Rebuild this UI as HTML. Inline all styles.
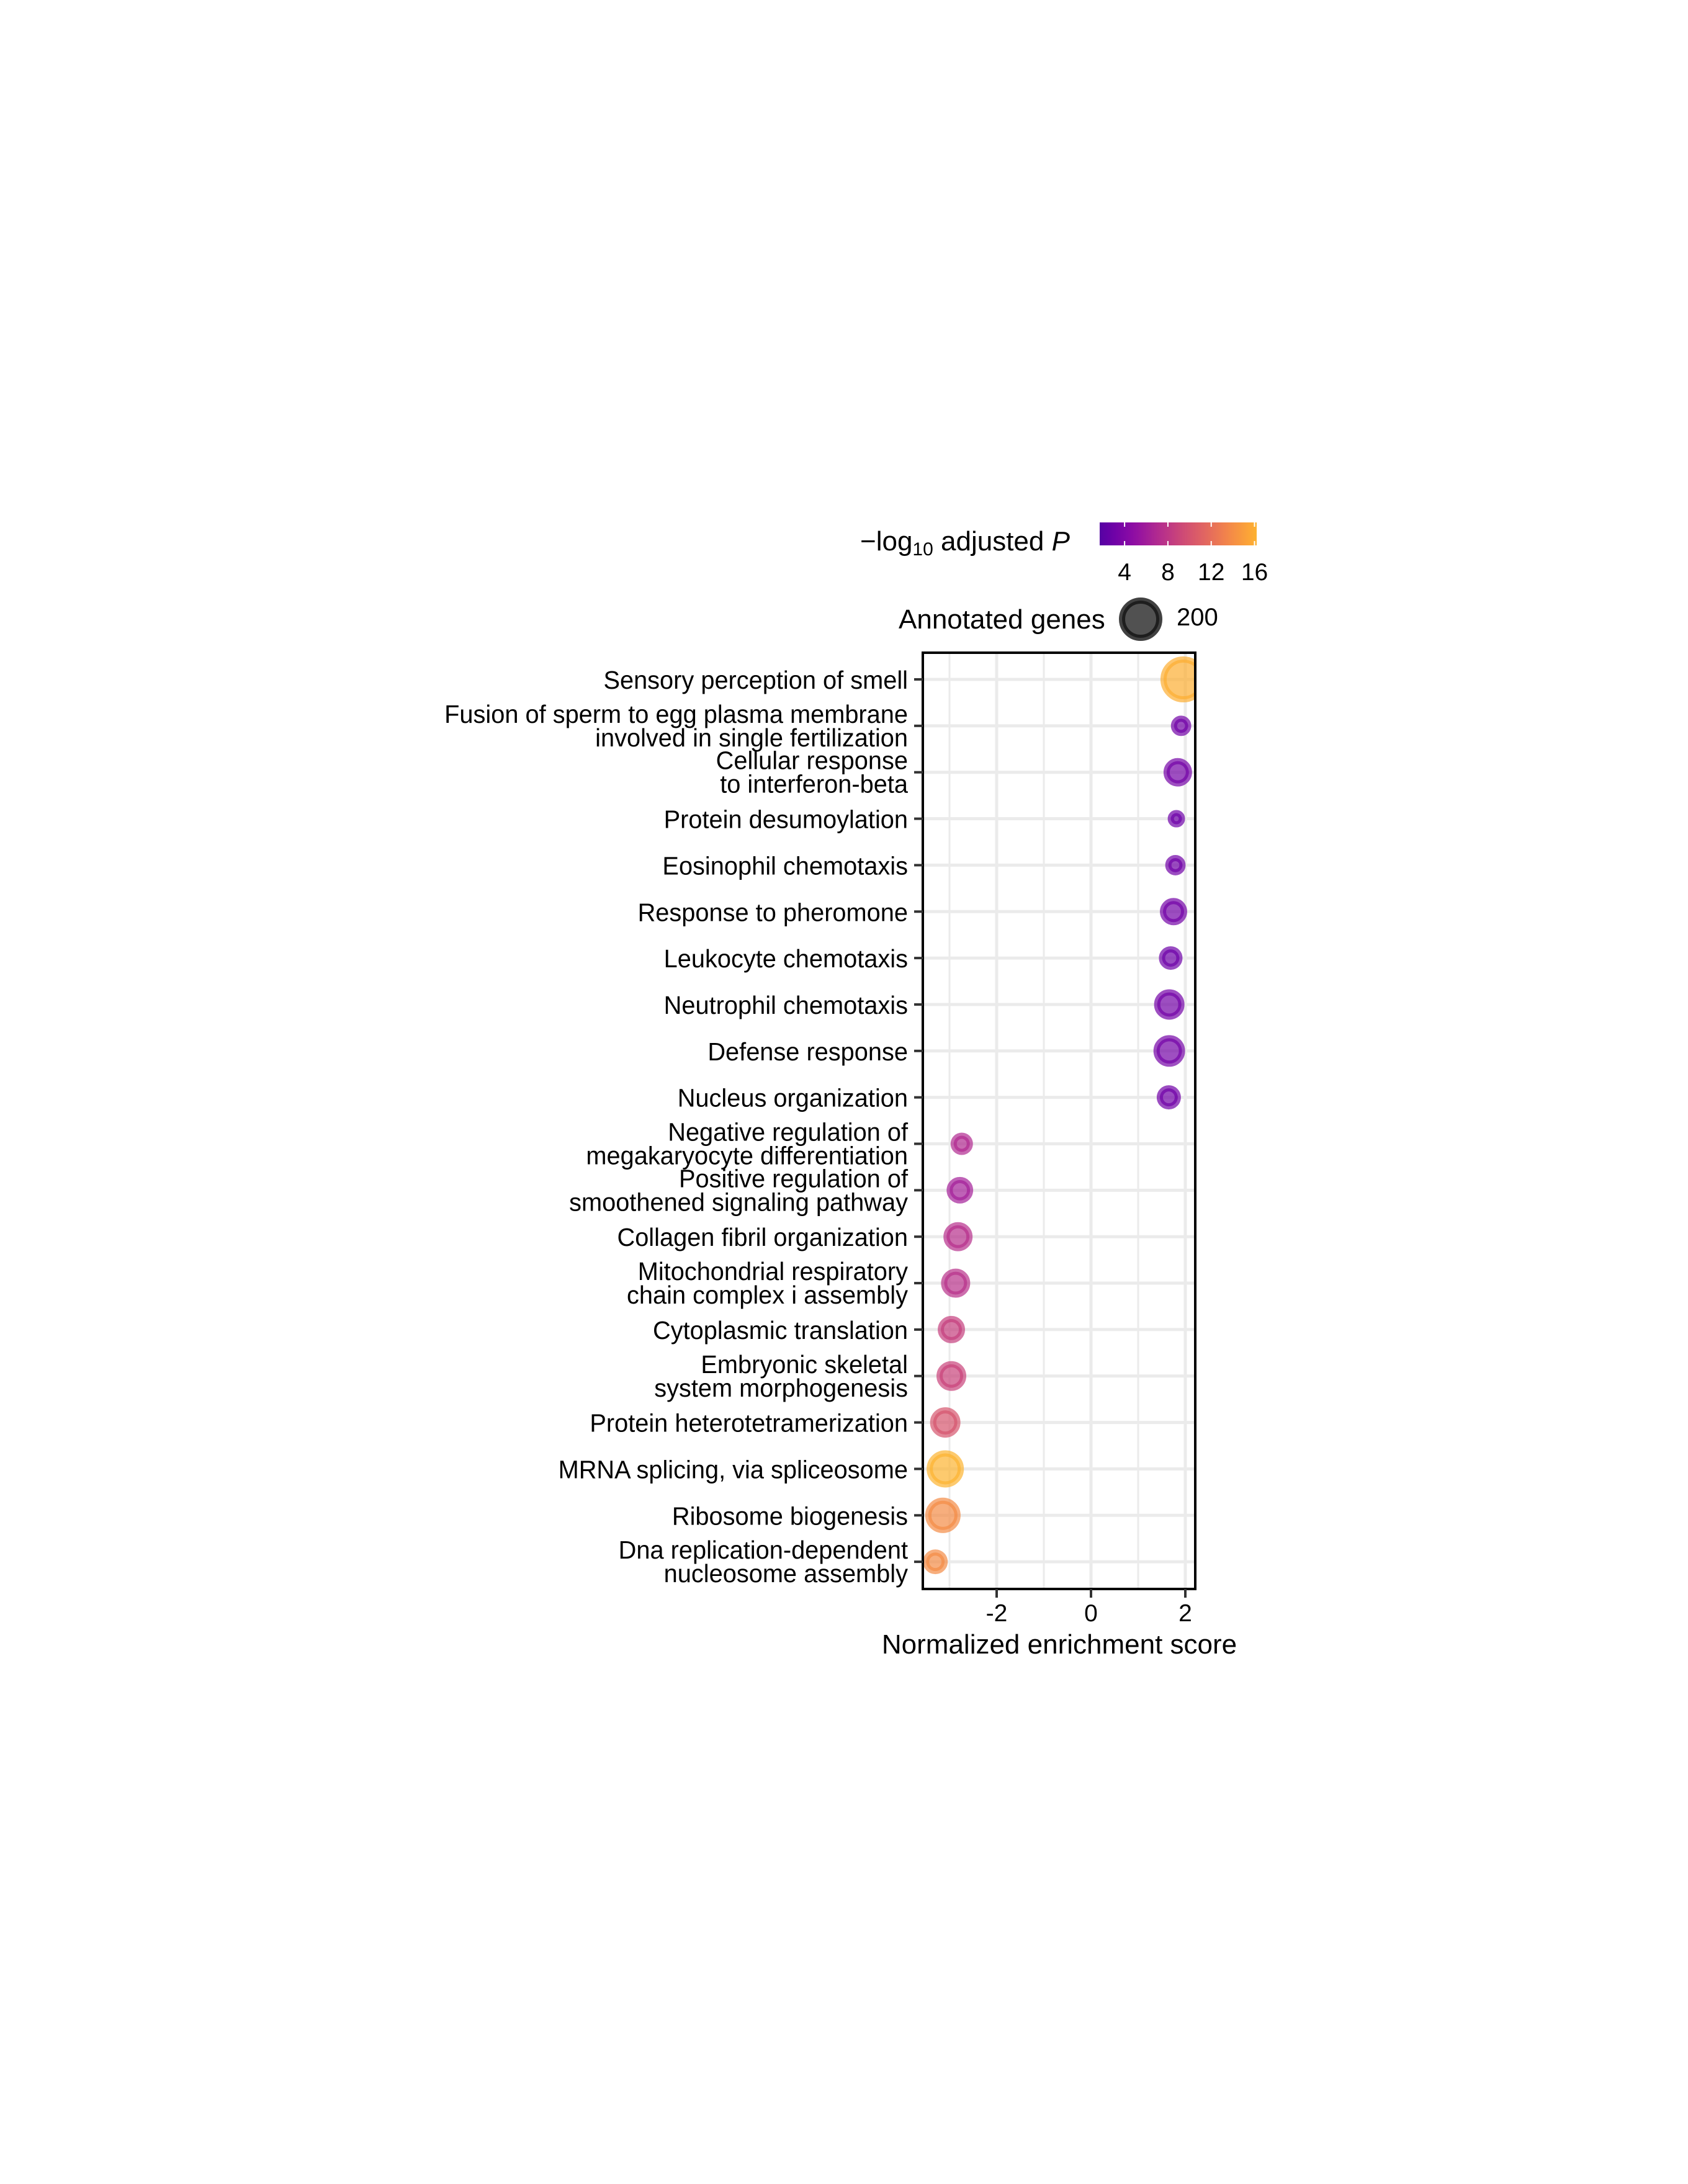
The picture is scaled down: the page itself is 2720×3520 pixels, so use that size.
<!DOCTYPE html>
<html><head><meta charset="utf-8"><style>
html,body{margin:0;padding:0;background:#fff;}
svg{display:block;}
text{font-family:"Liberation Sans",sans-serif;fill:#000;}
</style></head><body>
<svg id="chart" width="2720" height="3520" viewBox="0 0 2720 3520" xmlns="http://www.w3.org/2000/svg">
<defs>
<linearGradient id="cbgrad" x1="0" x2="1" y1="0" y2="0"></linearGradient>
<clipPath id="panelclip"><rect x="1487" y="1052" width="439" height="1509"></rect></clipPath>
</defs>
<g id="grid"></g>
<g id="points" clip-path="url(#panelclip)"></g>
<rect x="1487" y="1052" width="439" height="1509" fill="none" stroke="#000" stroke-width="4"></rect>
<g id="yaxis"></g>
<g id="xaxis"></g>
<text x="1707" y="2665" font-size="44" text-anchor="middle">Normalized enrichment score</text>
<g>
<text x="1386" y="887" font-size="44">−log<tspan font-size="30" dy="8">10</tspan><tspan dy="-8"> adjusted </tspan><tspan font-style="italic">P</tspan></text>
<rect x="1772" y="842" width="253" height="37" fill="url(#cbgrad)"></rect>
<g id="cbticks"></g>
</g>
<g>
<text x="1448" y="1013" font-size="44">Annotated genes</text>
<circle cx="1838" cy="998" r="30" fill="#333" fill-opacity="0.85" stroke="#111" stroke-opacity="0.8" stroke-width="10"></circle>
<text x="1896" y="1008" font-size="40">200</text>
</g>
</svg>
<script>
const categories = ["Sensory perception of smell","Fusion of sperm to egg plasma membrane|involved in single fertilization","Cellular response|to interferon-beta","Protein desumoylation","Eosinophil chemotaxis","Response to pheromone","Leukocyte chemotaxis","Neutrophil chemotaxis","Defense response","Nucleus organization","Negative regulation of|megakaryocyte differentiation","Positive regulation of|smoothened signaling pathway","Collagen fibril organization","Mitochondrial respiratory|chain complex i assembly","Cytoplasmic translation","Embryonic skeletal|system morphogenesis","Protein heterotetramerization","MRNA splicing, via spliceosome","Ribosome biogenesis","Dna replication-dependent|nucleosome assembly"];
const nes = [1.96,1.91,1.84,1.81,1.79,1.75,1.69,1.66,1.66,1.65,-2.74,-2.78,-2.82,-2.87,-2.96,-2.96,-3.09,-3.09,-3.14,-3.30];
const genes = [224,44,86,32,44,79,59,98,106,62,53,75,90,90,79,94,98,147,133,65];
const logp = [16.0,3.2,3.4,3.0,3.1,3.3,3.0,3.3,3.4,3.1,7.0,6.2,7.4,7.6,8.6,8.9,10.2,16.3,13.9,13.9];
const xTicks = [-2,0,2];
const xMinor = [-3,-1,1];
const cbTicks = [4,8,12,16];

const NS="http://www.w3.org/2000/svg";
const xScale = v => 1758 + v*76;
const yScale = i => 1095 + i*74.85;
const rScale = g => 35*Math.sqrt(g/200);
const cbMin=1.7, cbMax=16.2;
const cbX = v => 1772 + (v-cbMin)/(cbMax-cbMin)*253;
const plasma=[[13,8,135],[65,4,157],[106,0,168],[143,13,164],[177,42,144],[204,71,120],[225,100,98],[242,132,75],[252,166,54],[252,206,37],[240,249,33]];
function plasmaAt(t){t=Math.max(0,Math.min(1,t))*10;const i=Math.min(9,Math.floor(t)),f=t-i;const a=plasma[i],b=plasma[i+1];return 'rgb('+a.map((v,k)=>Math.round(v+(b[k]-v)*f)).join(',')+')';}
const colorOf = p => plasmaAt(0.15 + (p-cbMin)/(cbMax-cbMin)*0.68);
function mk(tag,attrs,parent){const e=document.createElementNS(NS,tag);for(const k in attrs)e.setAttribute(k,attrs[k]);parent.appendChild(e);return e;}

const grad=document.getElementById('cbgrad');
for(let s=0;s<=20;s++){const v=cbMin+(cbMax-cbMin)*s/20;mk('stop',{offset:(s*5)+'%','stop-color':colorOf(v)},grad);}
const cbt=document.getElementById('cbticks');
cbTicks.forEach(v=>{
  const l=mk('line',{x1:cbX(v),x2:cbX(v),y1:842,y2:849,stroke:'#fff','stroke-width':2},cbt);
  
  
  const l2=mk('line',{x1:cbX(v),x2:cbX(v),y1:872,y2:879,stroke:'#fff','stroke-width':2},cbt);
  
  
  const t=mk('text',{x:cbX(v),y:935,'font-size':39,'text-anchor':'middle'},cbt);
  t.textContent=v;
  
  
});

const grid=document.getElementById('grid');
xMinor.forEach(v=>{const l=mk('line',{x1:xScale(v),x2:xScale(v),y1:1052,y2:2561,stroke:'#ebebeb','stroke-width':3},grid);
  
  });
xTicks.forEach(v=>{const l=mk('line',{x1:xScale(v),x2:xScale(v),y1:1052,y2:2561,stroke:'#ebebeb','stroke-width':5},grid);
  
  });
categories.forEach((c,i)=>{const l=mk('line',{x1:1487,x2:1926,y1:yScale(i),y2:yScale(i),stroke:'#ebebeb','stroke-width':5},grid);
  
  });

const xa=document.getElementById('xaxis');
xTicks.forEach(v=>{
  const l=mk('line',{x1:xScale(v),x2:xScale(v),y1:2561,y2:2575,stroke:'#333','stroke-width':4},xa);
  
  
  const t=mk('text',{x:xScale(v),y:2613,'font-size':39,'text-anchor':'middle'},xa);
  t.textContent=v;
  
  
});

const ya=document.getElementById('yaxis');
categories.forEach((c,i)=>{
  const y=yScale(i);
  const l=mk('line',{x1:1473,x2:1487,y1:y,y2:y,stroke:'#333','stroke-width':4},ya);
  
  
  const parts=c.split('|');
  const t=mk('text',{'font-size':41,'text-anchor':'end',transform:'translate(1463,'+y+') scale(0.97,1)'},ya);
  
  
  if(parts.length===1){t.setAttribute('y',15);t.textContent=parts[0];}
  else{parts.forEach((p,k)=>{const ts=mk('tspan',{x:0,y:(k===0?-5:33)},t);ts.textContent=p;});}
});

const pts=document.getElementById('points');
categories.forEach((c,i)=>{
  const r=rScale(genes[i]);const col=colorOf(logp[i]);
  const ci=mk('circle',{cx:xScale(nes[i]),cy:yScale(i),r:Math.max(2,r-5),fill:col,'fill-opacity':0.7,stroke:col,'stroke-opacity':0.7,'stroke-width':10},pts);
  
  
});
</script>
</body></html>
